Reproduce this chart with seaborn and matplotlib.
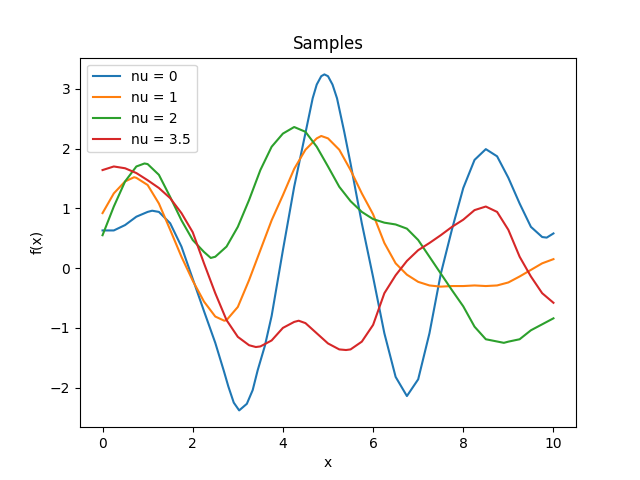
import numpy as np
import pandas as pd
import matplotlib
matplotlib.use("Agg")
import matplotlib.pyplot as plt
import seaborn as sns

# sample curves, one x/y pair per series
x_nu0 = [0.0, 0.25, 0.5, 0.75, 1.0, 1.1, 1.25, 1.5, 1.75, 2.0, 2.25, 2.5, 2.69, 2.79, 2.91, 3.03, 3.2, 3.33, 3.44,
         3.6, 3.75, 4.0, 4.25, 4.5, 4.66, 4.75, 4.85, 4.92, 5.0, 5.1, 5.2, 5.36, 5.5, 5.75, 6.0, 6.25, 6.5,
         6.75, 7.0, 7.25, 7.5, 7.75, 8.0, 8.25, 8.5, 8.75, 9.0, 9.25, 9.5, 9.75, 9.85, 10.0]
y_nu0 = [0.63, 0.63, 0.72, 0.86, 0.94, 0.96, 0.94, 0.75, 0.36, -0.18, -0.72, -1.25, -1.72, -1.98, -2.25, -2.38, -2.27, -2.04, -1.71,
         -1.3, -0.8, 0.3, 1.36, 2.26, 2.84, 3.07, 3.21, 3.24, 3.21, 3.07, 2.84, 2.28, 1.75, 0.75, -0.15, -1.09, -1.82,
         -2.14, -1.86, -1.09, -0.1, 0.65, 1.34, 1.81, 1.99, 1.87, 1.51, 1.08, 0.69, 0.52, 0.51, 0.58]

x_nu1 = [0.0, 0.25, 0.5, 0.7, 0.75, 1.0, 1.25, 1.5, 1.75, 2.0, 2.25, 2.5, 2.7, 2.75, 3.0, 3.25, 3.5, 3.75, 4.0,
         4.25, 4.5, 4.75, 4.85, 5.0, 5.25, 5.5, 5.75, 6.0, 6.25, 6.5, 6.75, 7.0, 7.25, 7.5, 7.75, 8.0,
         8.25, 8.5, 8.75, 9.0, 9.25, 9.5, 9.75, 10.0]
y_nu1 = [0.92, 1.25, 1.45, 1.52, 1.51, 1.39, 1.08, 0.64, 0.19, -0.21, -0.56, -0.81, -0.88, -0.87, -0.65, -0.2, 0.3, 0.8, 1.22,
         1.66, 1.98, 2.17, 2.21, 2.17, 1.98, 1.64, 1.25, 0.9, 0.42, 0.08, -0.11, -0.23, -0.29, -0.31, -0.30, -0.30,
         -0.29, -0.30, -0.29, -0.24, -0.14, -0.03, 0.08, 0.15]

x_nu2 = [0.0, 0.25, 0.5, 0.75, 0.93, 1.0, 1.25, 1.5, 1.75, 2.0, 2.25, 2.4, 2.5, 2.75, 3.0, 3.25, 3.5, 3.75, 4.0,
         4.25, 4.5, 4.75, 5.0, 5.25, 5.5, 5.75, 6.0, 6.25, 6.5, 6.75, 7.0, 7.25, 7.5, 7.75, 8.0,
         8.25, 8.5, 8.9, 9.0, 9.25, 9.5, 9.75, 10.0]
y_nu2 = [0.55, 1.03, 1.45, 1.70, 1.75, 1.74, 1.56, 1.19, 0.8, 0.47, 0.27, 0.17, 0.19, 0.36, 0.69, 1.14, 1.64, 2.03, 2.25,
         2.36, 2.28, 2.03, 1.70, 1.36, 1.12, 0.94, 0.82, 0.76, 0.73, 0.66, 0.47, 0.19, -0.09, -0.37, -0.64,
         -0.98, -1.19, -1.25, -1.23, -1.19, -1.04, -0.94, -0.84]

x_nu35 = [0.0, 0.25, 0.5, 0.75, 1.0, 1.25, 1.5, 1.75, 2.0, 2.25, 2.5, 2.75, 3.0, 3.25, 3.4, 3.5, 3.75, 4.0,
          4.25, 4.35, 4.5, 4.75, 5.0, 5.25, 5.4, 5.5, 5.75, 6.0, 6.25, 6.5, 6.75, 7.0, 7.25, 7.5, 7.75, 8.0,
          8.25, 8.5, 8.75, 9.0, 9.25, 9.5, 9.75, 10.0]
y_nu35 = [1.64, 1.70, 1.67, 1.59, 1.47, 1.34, 1.17, 0.92, 0.6, 0.08, -0.42, -0.87, -1.15, -1.29, -1.32, -1.31, -1.21, -1.0,
          -0.90, -0.88, -0.92, -1.09, -1.26, -1.36, -1.37, -1.36, -1.23, -0.95, -0.42, -0.12, 0.12, 0.30, 0.42, 0.55, 0.69, 0.81,
          0.97, 1.03, 0.94, 0.64, 0.19, -0.14, -0.42, -0.58]

series = [
    ("nu = 0", x_nu0, y_nu0),
    ("nu = 1", x_nu1, y_nu1),
    ("nu = 2", x_nu2, y_nu2),
    ("nu = 3.5", x_nu35, y_nu35),
]

fig, ax = plt.subplots(figsize=(6.4, 4.8), dpi=100)
for label, xs, ys in series:
    df = pd.DataFrame({"x": xs, "y": ys})
    sns.lineplot(data=df, x="x", y="y", ax=ax, label=label, lw=1.5)

ax.set_title("Samples")
ax.set_xlabel("x")
ax.set_ylabel("f(x)")
ax.legend(loc="upper left")
fig.savefig("out.png", dpi=100)
